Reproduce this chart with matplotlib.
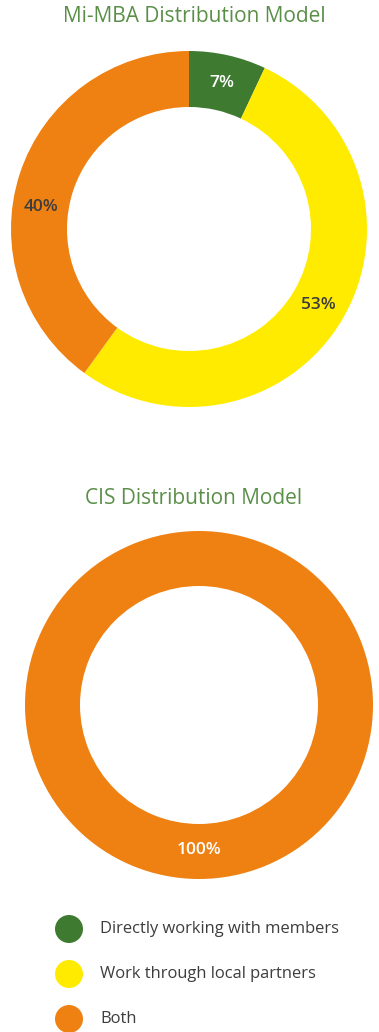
import matplotlib
matplotlib.use("Agg")
import matplotlib.pyplot as plt
from matplotlib.patches import Circle
import numpy as np

plt.rcParams['font.family'] = ['Open Sans', 'DejaVu Sans']

# ---- data ----
categories = ["Directly working with members", "Work through local partners", "Both"]
colors = ["#3e7b31", "#ffeb00", "#ef8112"]
mimba_title = "Mi-MBA Distribution Model"
mimba_values = [7, 53, 40]
cis_title = "CIS Distribution Model"
cis_values = [0, 0, 100]

W, H = 379, 1032
fig = plt.figure(figsize=(W / 100, H / 100), dpi=100)
ax = fig.add_axes([0, 0, 1, 1])

title_color = "#5a8f48"
dark = "#3d3d3d"


def donut(values, cx, cy_top, r, width, label_r, label_colors, label_angle_override=None):
    cy = H - cy_top
    keep = [i for i, v in enumerate(values) if v > 0]
    vv = [values[i] for i in keep]
    cc = [colors[i] for i in keep]
    ax.pie(vv, colors=cc, startangle=90, counterclock=False, center=(cx, cy),
           radius=r, wedgeprops=dict(width=width, linewidth=0), frame=True)
    total = float(sum(vv))
    start = 90.0
    for k, i in enumerate(keep):
        span = 360.0 * vv[k] / total
        mid = start - span / 2
        if label_angle_override and i in label_angle_override:
            mid = label_angle_override[i]
        x = cx + label_r * np.cos(np.radians(mid))
        y = cy + label_r * np.sin(np.radians(mid))
        ax.text(x, y, f"{values[i]}%", ha='center', va='center', fontsize=12.5,
                fontweight='semibold', color=label_colors[i])
        start -= span


# top donut
ax.text(194, H - 17, mimba_title, ha='center', va='center', fontsize=15, color=title_color)
donut(mimba_values, 189, 229, 178, 56, 150, ["white", dark, dark],
      label_angle_override={2: 171.5})

# bottom donut
ax.text(194, H - 499, cis_title, ha='center', va='center', fontsize=15, color=title_color)
donut(cis_values, 199, 705, 174, 55, 145, [dark, dark, "white"],
      label_angle_override={2: -90})

ax.set_xlim(0, W)
ax.set_ylim(0, H)
ax.set_aspect('auto')
ax.axis('off')

# legend
leg_y = [929, 974, 1019]
for cat, col, yy in zip(categories, colors, leg_y):
    ax.add_patch(Circle((69, H - yy), 14, color=col, linewidth=0))
    ax.text(100, H - yy, cat, ha='left', va='center', fontsize=11.9, color=dark)

fig.savefig("out.png", dpi=100)
